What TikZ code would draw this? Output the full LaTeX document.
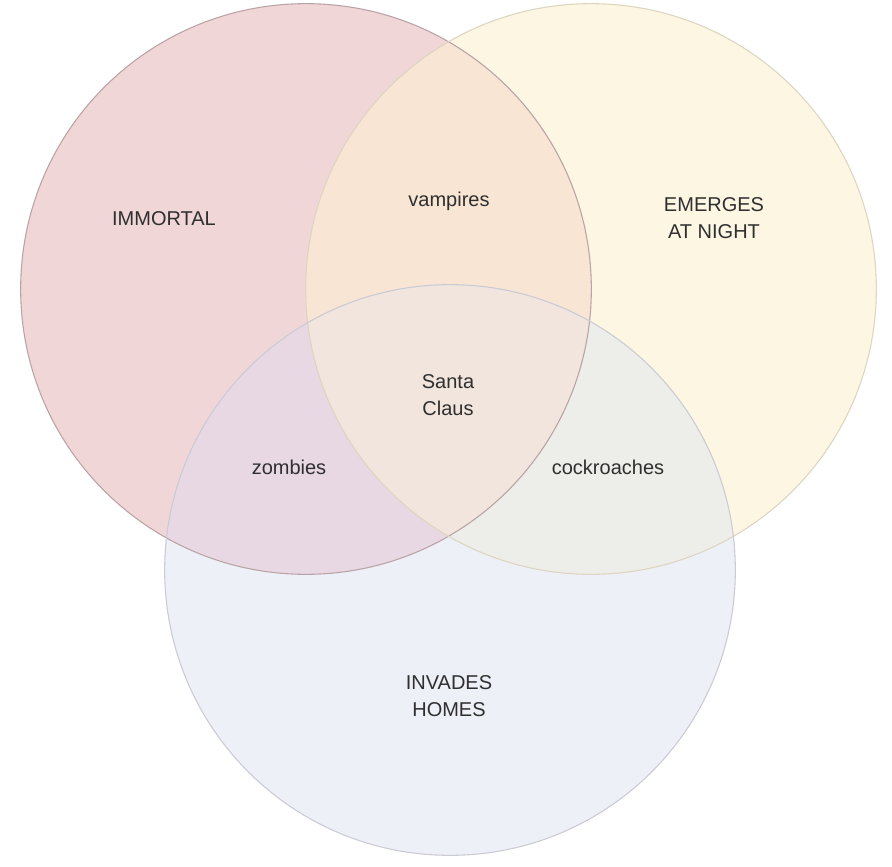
\documentclass[tikz,border=0pt]{standalone}
\usepackage{fontspec}
\setmainfont{Liberation Sans}
\usepackage{tikz}

\definecolor{immortalfill}{HTML}{F1D6D8}
\definecolor{nightfill}{HTML}{FCF6E3}
\definecolor{homesfill}{HTML}{EEF0F8}
\definecolor{vampfill}{HTML}{F8E5D4}
\definecolor{zombiefill}{HTML}{E7D8E3}
\definecolor{roachfill}{HTML}{EDEDE9}
\definecolor{santafill}{HTML}{F1E5DD}
\definecolor{immortaledge}{HTML}{B9A3A5}
\definecolor{nightedge}{HTML}{DDD5C0}
\definecolor{homesedge}{HTML}{CACBD4}
\definecolor{labeltext}{HTML}{2F2F2F}

\tikzset{
  setlabel/.style={align=center, text=labeltext, font=\fontsize{15}{20}\selectfont},
}

\begin{document}
\begin{tikzpicture}[x=0.75pt, y=-0.75pt, line width=0.8pt]
        % Canvas
        \fill[white] (0,0) rectangle (892,867);
        \useasboundingbox (0,0) rectangle (892,867);
        \def\rad{214pt}
        \coordinate (immortal) at (306,289);
        \coordinate (night) at (591,289);
        \coordinate (homes) at (450,570);

        % Single sets
        \fill[immortalfill] (immortal) circle (\rad);
        \fill[nightfill] (night) circle (\rad);
        \fill[homesfill] (homes) circle (\rad);

        % Pairwise overlaps
        \begin{scope}
            \clip (immortal) circle (\rad);
            \fill[vampfill] (night) circle (\rad);
            \fill[zombiefill] (homes) circle (\rad);
        \end{scope}
        \begin{scope}
            \clip (night) circle (\rad);
            \fill[roachfill] (homes) circle (\rad);
        \end{scope}

        % Triple overlap
        \begin{scope}
            \clip (immortal) circle (\rad);
            \clip (night) circle (\rad);
            \fill[santafill] (homes) circle (\rad);
        \end{scope}

        % Outlines
        \draw[immortaledge] (immortal) circle (\rad);
        \draw[nightedge] (night) circle (\rad);
        \draw[homesedge] (homes) circle (\rad);

        % Labels
        \node[setlabel] (immortallabel) at (164,219) {IMMORTAL};
        \node[setlabel] (nightlabel) at (714,218) {EMERGES\\AT NIGHT};
        \node[setlabel] (homeslabel) at (449,696) {INVADES\\HOMES};
        \node[setlabel] (vampires) at (449,201) {vampires};
        \node[setlabel] (zombies) at (289,467) {zombies};
        \node[setlabel] (cockroaches) at (608,467) {cockroaches};
        \node[setlabel] (santa) at (448,395) {Santa\\Claus};
    \end{tikzpicture}
\end{document}
